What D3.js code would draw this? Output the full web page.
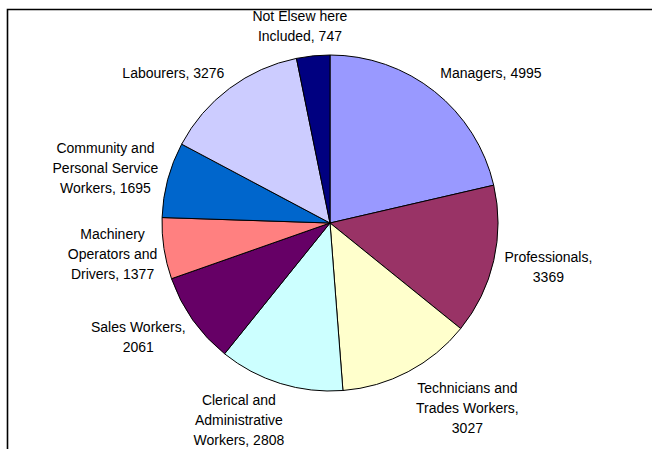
<!DOCTYPE html>
<html>
<head>
<meta charset="utf-8">
<script src="https://cdn.jsdelivr.net/npm/d3@7"></script>
<style>
  html, body { margin: 0; padding: 0; background: #fff; }
  svg { display: block; }
  text { font-family: "Liberation Sans", Arial, sans-serif; font-size: 14px; fill: #000; }
</style>
</head>
<body>
<div id="wrapper"></div>
<script>
// occupation groups, clockwise from 12 o'clock
const categories = [
    ["Managers, 4995"],
    ["Professionals,", "3369"],
    ["Technicians and", "Trades Workers,", "3027"],
    ["Clerical and", "Administrative", "Workers, 2808"],
    ["Sales Workers,", "2061"],
    ["Machinery", "Operators and", "Drivers, 1377"],
    ["Community and", "Personal Service", "Workers, 1695"],
    ["Labourers, 3276"],
    ["Not Elsew here", "Included, 747"]
];
const values = [4995, 3369, 3027, 2808, 2061, 1377, 1695, 3276, 747];
const colours = ["#9999FF", "#993366", "#FFFFCC", "#CCFFFF", "#660066",
                 "#FF8080", "#0066CC", "#CCCCFF", "#000080"];

// label nudges from the plain label arc (layout only)
const labelNudge = [[24, 22], [4, -5], [35, -10], [-26, -13], [-12, -13],
                    [0, -2], [-12, 2], [-25, 26], [-8, 22]];

function buildPlot() {
    const dimension = { width: 652, height: 449, cx: 330, cy: 223, radius: 168, labelRadius: 220 };

    const svg = d3.select("#wrapper").append("svg")
        .attr("width", dimension.width)
        .attr("height", dimension.height);

    // frame of the chart area (runs off the right and bottom)
    svg.append("path")
        .attr("d", `M7.5,${dimension.height + 5} L7.5,9.5 L${dimension.width + 5},9.5`)
        .attr("fill", "none")
        .attr("stroke", "#000")
        .attr("stroke-width", 1.6);

    const pie = d3.pie().sort(null).value(d => d)(values);
    const arc = d3.arc().innerRadius(0).outerRadius(dimension.radius);
    const labelArc = d3.arc().innerRadius(dimension.labelRadius).outerRadius(dimension.labelRadius);

    const bounded = svg.append("g")
        .attr("transform", `translate(${dimension.cx}, ${dimension.cy})`);

    bounded.selectAll("path.slice")
        .data(pie)
        .join("path")
        .attr("class", "slice")
        .attr("d", arc)
        .attr("fill", (d, i) => colours[i])
        .attr("stroke", "#000")
        .attr("stroke-width", 1)
        .attr("stroke-linejoin", "round");

    const lineH = 20;
    bounded.selectAll("text.lbl")
        .data(pie)
        .join("text")
        .attr("class", "lbl")
        .attr("text-anchor", "middle")
        .each(function (d, i) {
            const c = labelArc.centroid(d);
            const x = c[0] + labelNudge[i][0];
            const y = c[1] + labelNudge[i][1];
            const lines = categories[i];
            const y0 = y - (lines.length - 1) * lineH / 2 + 5;
            d3.select(this).selectAll("tspan")
                .data(lines)
                .join("tspan")
                .attr("x", x)
                .attr("y", (t, k) => y0 + k * lineH)
                .text(t => t);
        });
}

buildPlot();
</script>
</body>
</html>
